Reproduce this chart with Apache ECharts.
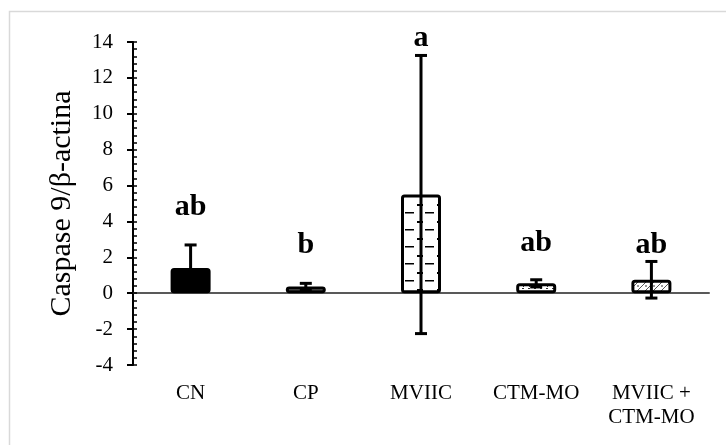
<!DOCTYPE html>
<html><head><meta charset="utf-8">
<script src="https://cdn.jsdelivr.net/npm/echarts@6/dist/echarts.min.js"></script>
<style>html,body{margin:0;padding:0;background:#fff}#c{width:726px;height:445px}</style>
</head><body><div id="c"></div>
<script>
const categories = ['CN', 'CP', 'MVIIC', 'CTM-MO', 'MVIIC +\nCTM-MO'];
const means = [1.4, 0.38, 5.5, 0.55, 0.75];
const errors = [1.29, 0.17, 7.75, 0.2, 1.02];
const letters = ['ab', 'b', 'a', 'ab', 'ab'];
const letterPos = [4.8, 2.7, 14.2, 2.8, 2.7];
const yTicks = [-4, -2, 0, 2, 4, 6, 8, 10, 12, 14];

function makePattern(kind) {
  const c = document.createElement('canvas');
  const ctx = c.getContext('2d');
  if (kind === 'dash') {
    c.width = 20; c.height = 17;
    ctx.fillStyle = '#fff'; ctx.fillRect(0, 0, 20, 17);
    ctx.fillStyle = '#000';
    ctx.fillRect(0, 0, 3, 2); ctx.fillRect(17, 0, 3, 2);
    ctx.fillRect(5, 8, 9, 1.5);
  } else if (kind === 'dots') {
    c.width = 6; c.height = 6;
    ctx.fillStyle = '#fff'; ctx.fillRect(0, 0, 6, 6);
    ctx.fillStyle = '#333';
    ctx.fillRect(0, 0, 2, 1); ctx.fillRect(3, 3, 2, 1); ctx.fillRect(1, 4, 1, 1);
  } else if (kind === 'wave') {
    c.width = 8; c.height = 8;
    ctx.fillStyle = '#fff'; ctx.fillRect(0, 0, 8, 8);
    ctx.strokeStyle = '#555'; ctx.lineWidth = 1;
    ctx.beginPath(); ctx.moveTo(0, 8); ctx.lineTo(8, 0); ctx.stroke();
    ctx.fillStyle = '#999'; ctx.fillRect(5, 5, 2, 2);
  }
  return { image: c, repeat: 'repeat' };
}
const fills = ['#000000', '#808080', makePattern('dash'), makePattern('dots'), makePattern('wave')];

const chart = echarts.init(document.getElementById('c'), null, { renderer: 'canvas' });
const serif = 'Liberation Serif';
chart.setOption({
  animation: false,
  backgroundColor: '#fff',
  graphic: [{
    type: 'rect', shape: { x: 9.5, y: 11.5, width: 800, height: 500 },
    style: { fill: 'none', stroke: '#d9d9d9', lineWidth: 1.5 }, silent: true, z: -1
  }],
  grid: { left: 133, right: 17, top: 42, bottom: 80, containLabel: false },
  xAxis: [{
    type: 'category', data: categories,
    axisLine: { show: true, onZero: true, lineStyle: { color: '#595959', width: 2 } },
    axisTick: { show: false }, axisLabel: { show: false }, splitLine: { show: false }
  }, {
    type: 'category', data: categories, position: 'bottom',
    axisLine: { show: false, onZero: false }, axisTick: { show: false },
    axisLabel: { show: true, fontFamily: serif, fontSize: 21, color: '#000', margin: 16, lineHeight: 24, interval: 0 }
  }],
  yAxis: [{
    type: 'value', min: -4, max: 14, interval: 2,
    name: 'Caspase 9/β-actina', nameLocation: 'middle', nameGap: 56,
    nameTextStyle: { fontFamily: serif, fontSize: 30, color: '#000' },
    axisLine: { show: true, lineStyle: { color: '#000', width: 2 } },
    axisTick: { show: true, length: 6, lineStyle: { color: '#000', width: 2 } },
    axisLabel: { fontFamily: serif, fontSize: 21, color: '#000', margin: 20 },
    splitLine: { show: false }
  }, {
    type: 'value', min: -4, max: 14, interval: 2, position: 'left', offset: 0,
    axisLine: { show: false },
    axisTick: { show: true, inside: true, length: 4, lineStyle: { color: '#000', width: 1.5 } },
    minorTick: { show: true, splitNumber: 5, length: 4, lineStyle: { color: '#000', width: 1.5 } },
    axisLabel: { show: false }, splitLine: { show: false }
  }],
  series: [{
    type: 'bar', barWidth: 40, xAxisIndex: 0, yAxisIndex: 0,
    data: means.map((v, i) => ({ value: v, itemStyle: { color: fills[i] } })),
    itemStyle: { borderColor: '#000', borderWidth: 3, borderRadius: 2 },
    z: 2
  }, {
    type: 'custom', xAxisIndex: 0, yAxisIndex: 0, z: 5,
    data: means.map((m, i) => [i, m - errors[i], m + errors[i]]),
    renderItem: function (params, api) {
      const lo = api.coord([api.value(0), api.value(1)]);
      const hi = api.coord([api.value(0), api.value(2)]);
      const w = 6;
      const st = { stroke: '#000', lineWidth: 3 };
      return { type: 'group', children: [
        { type: 'line', shape: { x1: hi[0], y1: hi[1], x2: lo[0], y2: lo[1] }, style: st },
        { type: 'line', shape: { x1: hi[0] - w, y1: hi[1], x2: hi[0] + w, y2: hi[1] }, style: st },
        { type: 'line', shape: { x1: lo[0] - w, y1: lo[1], x2: lo[0] + w, y2: lo[1] }, style: st }
      ]};
    }
  }, {
    type: 'custom', xAxisIndex: 0, yAxisIndex: 0, z: 6,
    data: letterPos.map((p, i) => [i, p]),
    renderItem: function (params, api) {
      const pt = api.coord([api.value(0), api.value(1)]);
      return { type: 'text', x: pt[0], y: pt[1], style: {
        text: letters[params.dataIndex], fontFamily: serif, fontWeight: 'bold', fontSize: 30,
        fill: '#000', align: 'center', verticalAlign: 'middle' } };
    }
  }]
});
</script></body></html>
